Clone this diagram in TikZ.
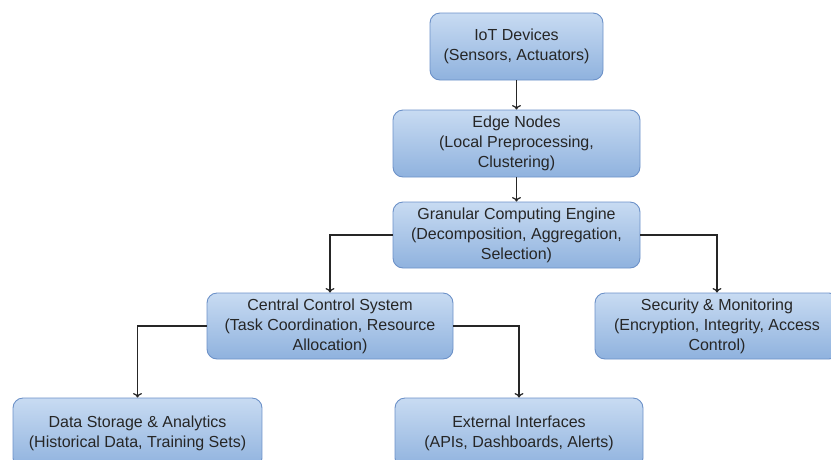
\documentclass[tikz,border=0pt]{standalone}
\usepackage{fontspec}
\setmainfont{Liberation Sans}
\usetikzlibrary{arrows.meta}
\definecolor{boxtop}{RGB}{200,219,242}
\definecolor{boxbot}{RGB}{143,178,222}
\definecolor{boxline}{RGB}{108,145,200}
\tikzset{
  blk/.style={draw=boxline, line width=0.9pt, rounded corners=10pt,
    top color=boxtop, bottom color=boxbot, align=center,
    font=\fontsize{16}{20}\selectfont, text=black!85, inner sep=0pt},
  conn/.style={line width=1.3pt, black!85, -{To[length=4.5pt,width=9pt]}}
}
\begin{document}
\begin{tikzpicture}[x=1pt,y=-1pt]
\useasboundingbox (0,0) rectangle (831,459);
\clip (0,0) rectangle (831,459);
\node[blk, minimum width=173pt, minimum height=67pt] (iot) at (516.5,46.5) {IoT Devices\\(Sensors, Actuators)};
\node[blk, minimum width=247pt, minimum height=67pt] (edge) at (516.5,143.5) {Edge Nodes\\(Local Preprocessing,\\Clustering)};
\node[blk, minimum width=247pt, minimum height=66pt] (gran) at (516.5,235) {Granular Computing Engine\\(Decomposition, Aggregation,\\Selection)};
\node[blk, minimum width=246pt, minimum height=66pt] (cent) at (330,326) {Central Control System\\(Task Coordination, Resource\\Allocation)};
\node[blk, minimum width=244pt, minimum height=66pt] (sec) at (717,326) {Security \& Monitoring\\(Encryption, Integrity, Access\\Control)};
\node[blk, minimum width=249pt, minimum height=70pt] (data) at (137.5,433) {Data Storage \& Analytics\\(Historical Data, Training Sets)};
\node[blk, minimum width=248pt, minimum height=70pt] (ext) at (519,433) {External Interfaces\\(APIs, Dashboards, Alerts)};
\draw[conn] (iot) -- (edge);
\draw[conn] (edge) -- (gran);
\draw[conn] (gran.west) -| (cent.north);
\draw[conn] (gran.east) -| (sec.north);
\draw[conn] (cent.west) -| (data.north);
\draw[conn] (cent.east) -| (ext.north);
\end{tikzpicture}
\end{document}
